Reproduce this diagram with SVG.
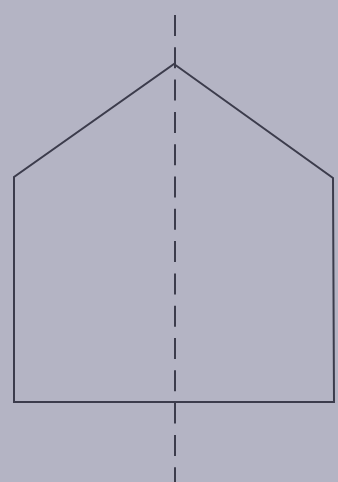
<svg xmlns="http://www.w3.org/2000/svg" width="338" height="482" viewBox="0 0 338 482">
<style>
.ln{fill:none;stroke:#3c3c4c;stroke-width:2;stroke-linejoin:miter}
.ax{fill:none;stroke:#3c3c4c;stroke-width:2;stroke-dasharray:21 11.3}
</style>
<rect width="338" height="482" fill="#b4b4c4"/>
<g id="pentagon">
<polygon class="ln" points="174,64 333,178 334,402 14,402 14,177"/>
</g>
<g id="connectors">
<line class="ax" x1="175" y1="15" x2="175" y2="482"/>
</g>
</svg>
